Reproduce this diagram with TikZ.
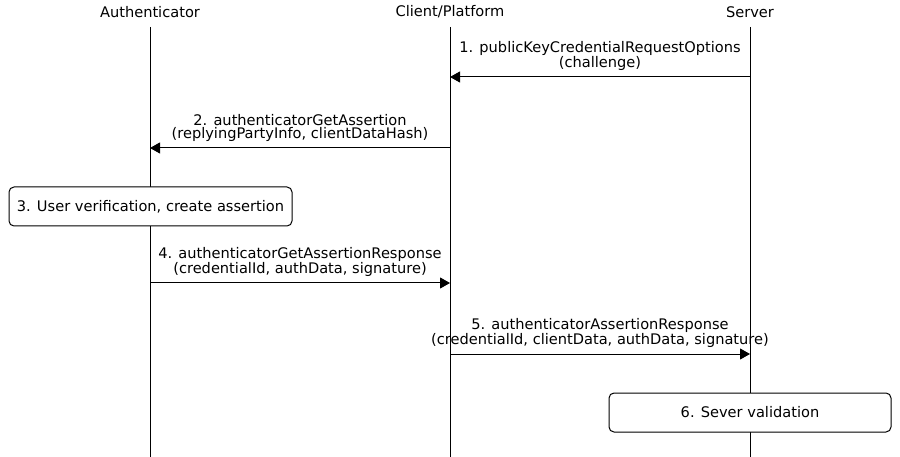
\documentclass[tikz,border=0pt]{standalone}
\usepackage{fontspec}
\setmainfont{DejaVu Sans}
\usetikzlibrary{arrows.meta}
\tikzset{
  msg/.style={-{Triangle[length=10pt,width=11pt]}},
  msglabel/.style={above=6pt, inner sep=0pt, align=center},
  actionbox/.style={draw, rounded corners=5pt, fill=white, minimum height=39pt, inner sep=0pt},
}
\begin{document}
\begin{tikzpicture}[x=1pt,y=-1pt,line width=1pt,font=\fontsize{14.6}{13.2}\selectfont]
  \useasboundingbox (0,0) rectangle (900,457);
  % lifelines
  \foreach \name/\x/\txt in {auth/150/Authenticator, client/450/{Client/Platform}, server/750/Server}{
    \node (\name) at (\x,12) {\txt};
    \coordinate (\name-top) at (\x,27);
    \coordinate (\name-end) at (\x,457);
    \draw (\name-top) -- (\name-end);
  }
  % message end points
  \coordinate (m1a) at (750,77);  \coordinate (m1b) at (450,77);
  \coordinate (m2a) at (450,148); \coordinate (m2b) at (150,148);
  \coordinate (m4a) at (150,283); \coordinate (m4b) at (450,283);
  \coordinate (m5a) at (450,354); \coordinate (m5b) at (750,354);
  \draw[msg] (m1a) -- node[msglabel]{1. publicKeyCredentialRequestOptions\\(challenge)} (m1b);
  \draw[msg] (m2a) -- node[msglabel]{2. authenticatorGetAssertion\\(replyingPartyInfo, clientDataHash)} (m2b);
  \node[actionbox, minimum width=283pt] (verify) at (150.5,206.5) {3. User verification, create assertion};
  \draw[msg] (m4a) -- node[msglabel]{4. authenticatorGetAssertionResponse\\(credentialId, authData, signature)} (m4b);
  \draw[msg] (m5a) -- node[msglabel]{5. authenticatorAssertionResponse\\(credentialId, clientData, authData, signature)} (m5b);
  \node[actionbox, minimum width=282pt] (validate) at (750,412.5) {6. Sever validation};
\end{tikzpicture}
\end{document}
